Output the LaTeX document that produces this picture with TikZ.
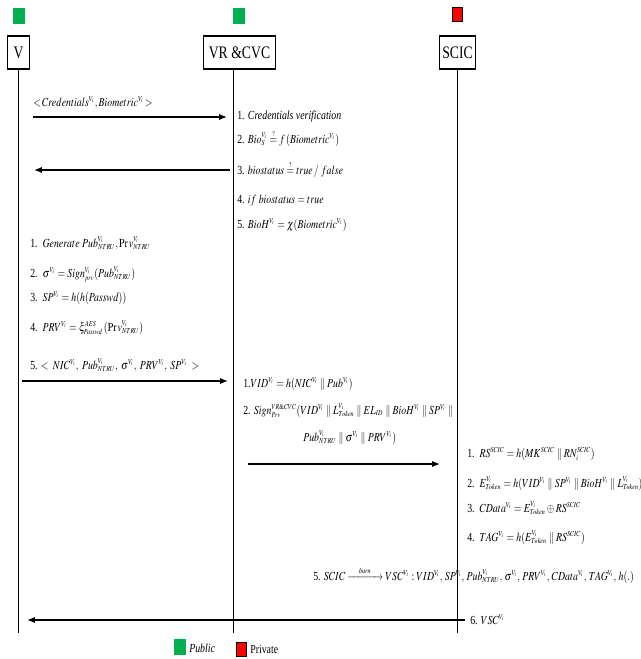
\documentclass[tikz,border=0pt]{standalone}
\usepackage{amsmath,amssymb}
\usepackage{mathptmx}
\usepackage{fontspec}
\setmainfont{Liberation Serif}
\usetikzlibrary{arrows.meta}

\definecolor{pubgreen}{RGB}{0,176,80}
\definecolor{prvred}{RGB}{255,0,0}

\DeclareMathSizes{7}{7}{4.3}{3.4}
\newcommand{\Vi}{{V_i}}
\newcommand{\cat}{\parallel}

\begin{document}
\begin{tikzpicture}[x=0.02cm, y=-0.02cm,
    entity/.style={draw, line width=0.6pt, minimum height=0.66cm, inner sep=2pt,
                   font=\fontsize{10}{12}\selectfont, xscale=0.78},
    txt/.style={anchor=base west, inner sep=0pt, font=\fontsize{7}{8.5}\selectfont, xscale=0.8},
    msg/.style={-{Latex[length=4.5pt,width=3.6pt]}, line width=0.8pt},
    life/.style={line width=0.5pt},
    pubkey/.style={fill=pubgreen, draw=pubgreen, minimum width=0.22cm, minimum height=0.3cm, inner sep=0pt},
    prvkey/.style={fill=prvred, draw=black, line width=0.5pt, minimum width=0.2cm, minimum height=0.28cm, inner sep=0pt}]

\useasboundingbox (0,0) rectangle (640,659);

% entities
\node[entity, minimum width=0.54cm] (V) at (18.5,52.5) {V};
\node[entity, minimum width=1.87cm] (VR) at (239.5,52.5) {VR \&CVC};
\node[entity, minimum width=0.9cm] (SCIC) at (457.5,52.5) {SCIC};

\node[pubkey] (kV) at (18.5,15.5) {};
\node[pubkey] (kVR) at (238.5,15.5) {};
\node[prvkey] (kSCIC) at (457,14) {};

% lifelines
\coordinate (Vend) at (18,633);
\coordinate (VRend) at (233,633);
\coordinate (SCICend) at (457,633);
\draw[life] (Vend |- V.south) -- (Vend);
\draw[life] (VRend |- VR.south) -- (VRend);
\draw[life] (SCICend |- SCIC.south) -- (SCICend);

% registration request
\coordinate (a1s) at (33,117);
\coordinate (a1e) at (227,117);
\draw[msg] (a1s) -- (a1e);
\node[txt] (req) at (33,106) {$<\!Credentials^{\Vi}, Biometric^{\Vi}\!>$};

\node[txt] (vr1) at (237,119) {1. \textit{Credentials verification}};
\node[txt] (vr2) at (237,143) {2. $Bio_S^{\Vi} \overset{?}{=} f\,(Biometric^{\Vi})$};
\node[txt] (vr3) at (237,174) {3. $biostatus \overset{?}{=} true\,/\,\,false$};
\node[txt] (vr4) at (237,203) {4. $if\ biostatus = true$};
\node[txt] (vr5) at (237,228) {5. $BioH^{\Vi} = \chi(Biometric^{\Vi})$};

\coordinate (a2s) at (230,170);
\coordinate (a2e) at (34,170);
\draw[msg] (a2s) -- (a2e);

% vehicle side
\node[txt] (v1) at (30,247) {1.\ \ $Generate\ Pub^{\Vi}_{NTRU}, \mathrm{Pr}\,v^{\Vi}_{NTRU}$};
\node[txt] (v2) at (30,277) {2.\ \ $\sigma^{\Vi} = Sign^{\Vi}_{prv}(Pub^{\Vi}_{NTRU})$};
\node[txt] (v3) at (30,301) {3.\ \ $SP^{\Vi} = h(h(Passwd))$};
\node[txt] (v4) at (30,331) {4.\ \ $PRV^{\Vi} = \xi^{AES}_{Passwd}\,(\mathrm{Pr}\,v^{\Vi}_{NTRU})$};
\node[txt] (v5) at (30,369) {5. $<\;NIC^{\Vi},\;Pub^{\Vi}_{NTRU},\;\sigma^{\Vi},\;PRV^{\Vi},\;SP^{\Vi}\;>$};

\coordinate (a3s) at (22,381);
\coordinate (a3e) at (228,381);
\draw[msg] (a3s) -- (a3e);

% VR & CVC signs
\node[txt] (w1) at (243,387) {1.$VID^{\Vi} = h(NIC^{\Vi} \cat Pub^{\Vi})$};
\node[txt] (w2) at (243,414) {2. $Sign^{VR\&CVC}_{Prv}(VID^{\Vi} \cat L^{\Vi}_{Token} \cat EL_{ID} \cat BioH^{\Vi} \cat SP^{\Vi} \cat$};
\node[txt] (w3) at (303,441) {$Pub^{\Vi}_{NTRU} \cat \sigma^{\Vi} \cat PRV^{\Vi})$};

\coordinate (a4s) at (248,464);
\coordinate (a4e) at (440,464);
\draw[msg] (a4s) -- (a4e);

% SCIC
\node[txt] (s1) at (467,457) {1.\ \ $RS^{SCIC} = h(MK^{SCIC} \cat RN_i^{SCIC})$};
\node[txt] (s2) at (467,487) {2.\ \ $E^{\Vi}_{Token} = h(VID^{\Vi} \cat SP^{\Vi} \cat BioH^{\Vi} \cat L^{\Vi}_{Token})$};
\node[txt] (s3) at (467,512) {3.\ \ $CData^{\Vi} = E^{\Vi}_{Token} \oplus RS^{SCIC}$};
\node[txt] (s4) at (467,541) {4.\ \ $TAG^{\Vi} = h(E^{\Vi}_{Token} \cat RS^{SCIC})$};
\node[txt] (s5) at (313,580) {5. $SCIC \xrightarrow{\quad burn\quad} VSC^{\Vi} : VID^{\Vi},\,SP^{\Vi},\,Pub^{\Vi}_{NTRU},\,\sigma^{\Vi},\,PRV^{\Vi},\,CData^{\Vi},\,TAG^{\Vi},\,h(.)$};

\coordinate (a5s) at (465,620);
\coordinate (a5e) at (27,620);
\draw[msg] (a5s) -- (a5e);
\node[txt] (s6) at (470,624) {6. $VSC^{\Vi}$};

% legend
\node[pubkey] (lgPub) at (180,647) {};
\node[txt] (lgPubT) at (189,652) {\textit{Public}};
\node[prvkey] (lgPrv) at (241.5,649) {};
\node[txt] (lgPrvT) at (250,653) {Private};

\end{tikzpicture}
\end{document}
